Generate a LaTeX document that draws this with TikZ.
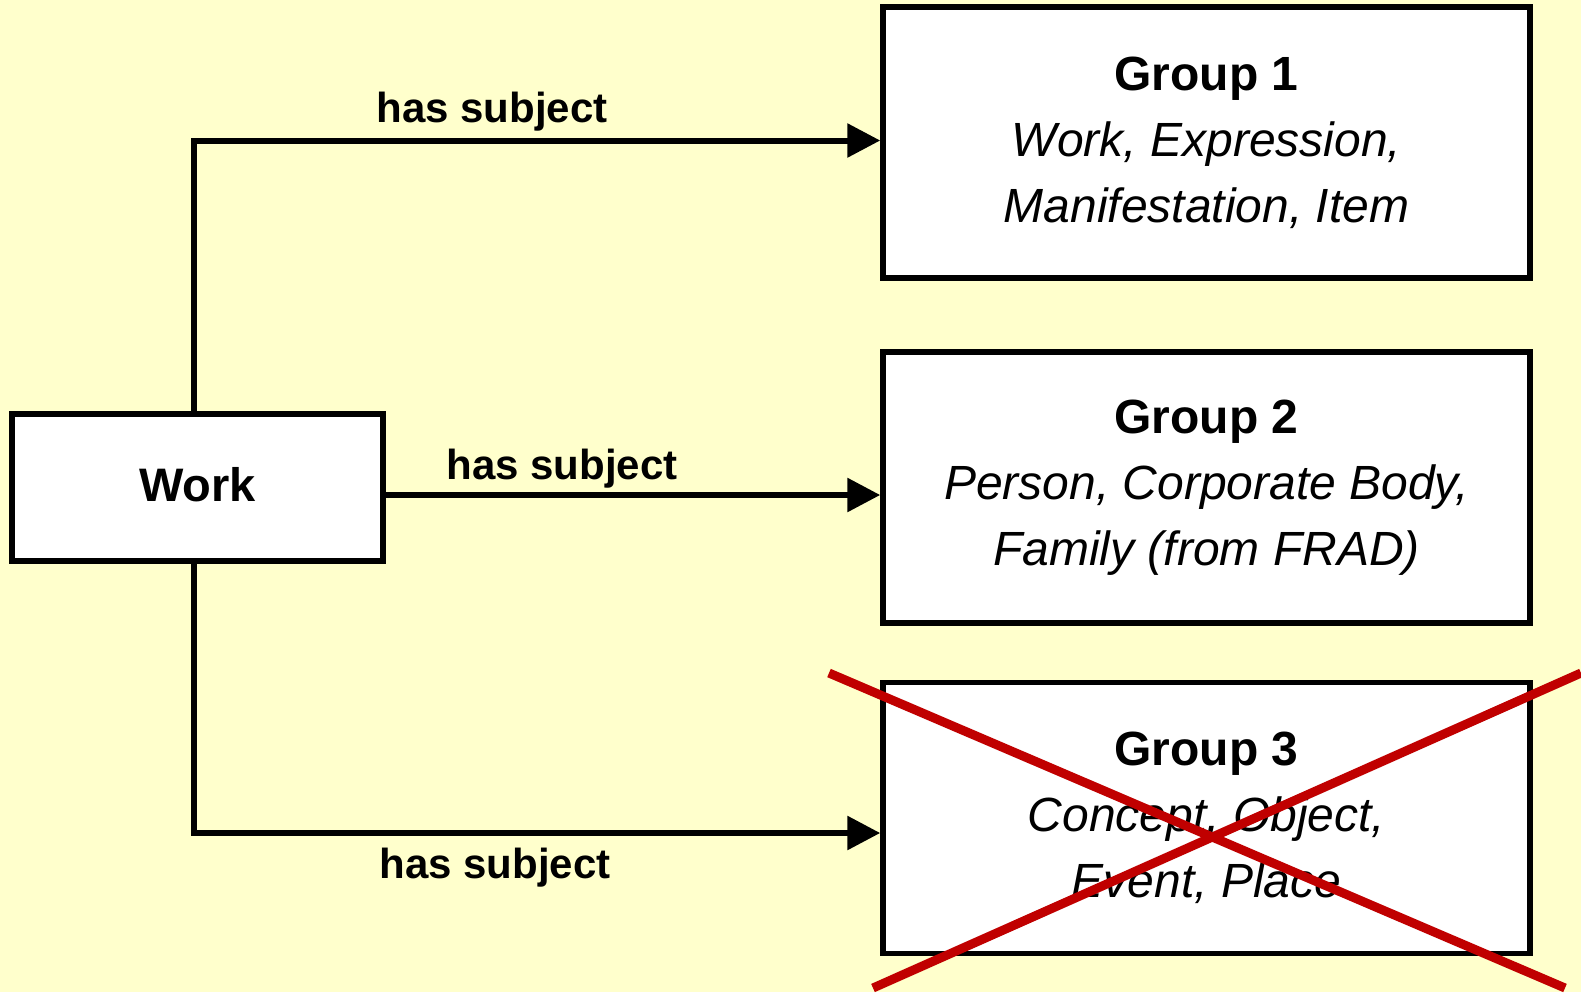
\documentclass[tikz,border=0pt]{standalone}
\usepackage{fontspec}
\setmainfont{Liberation Sans}
\usetikzlibrary{arrows.meta}
\definecolor{bgyellow}{HTML}{FFFFCC}
\definecolor{crossred}{HTML}{C00000}
\begin{document}
\begin{tikzpicture}[x=0.5pt,y=0.5pt,
    groupbox/.style={draw, line width=2.75pt, fill=white, minimum width=323.5pt,
      minimum height=135.5pt, align=center, inner sep=0pt,
      font=\fontsize{24}{33}\selectfont},
    workbox/.style={draw, line width=2.75pt, fill=white, minimum width=185.5pt,
      minimum height=73.5pt, font=\fontsize{23.5}{28}\selectfont\bfseries},
    link/.style={line width=3pt, -{Triangle[length=16.5pt,width=16.5pt]}},
    linklabel/.style={font=\fontsize{21}{25}\selectfont\bfseries}]
  \fill[bgyellow] (0,0) rectangle (1581,-992);
  \useasboundingbox (0,0) rectangle (1581,-992);
  % entities
  \node[workbox] (work) at (197.5,-487.5) {\raisebox{3pt}{Work}};
  \node[groupbox] (g1) at (1206.5,-142.5) {\textbf{Group 1}\\ \textit{Work, Expression,}\\ \textit{Manifestation, Item}};
  \node[groupbox] (g2) at (1206.5,-487.5) {\textbf{Group 2}\\ \textit{Person, Corporate Body,}\\ \textit{Family (from FRAD)}};
  \node[groupbox] (g3) at (1206.5,-818) {\textbf{Group 3}\\ \textit{Concept, Object,}\\ \textit{Event, Place}};
  % relationships
  \draw[link] ([xshift=-1.75pt]work.north) |- ([yshift=1pt]g1.west);
  \draw[link] ([yshift=-3.75pt]work.east) -- ([yshift=-3.75pt]g2.west);
  \draw[link] ([xshift=-1.75pt]work.south) |- ([yshift=-7.5pt]g3.west);
  \node[linklabel] (l1) at (492,-112) {has subject};
  \node[linklabel] (l2) at (562,-469) {has subject};
  \node[linklabel] (l3) at (495,-868) {has subject};
  % crossed out
  \draw[crossred, line width=4.5pt] (829,-673) -- (1565,-988);
  \draw[crossred, line width=4.5pt] (873,-988) -- (1581,-673);
\end{tikzpicture}
\end{document}
